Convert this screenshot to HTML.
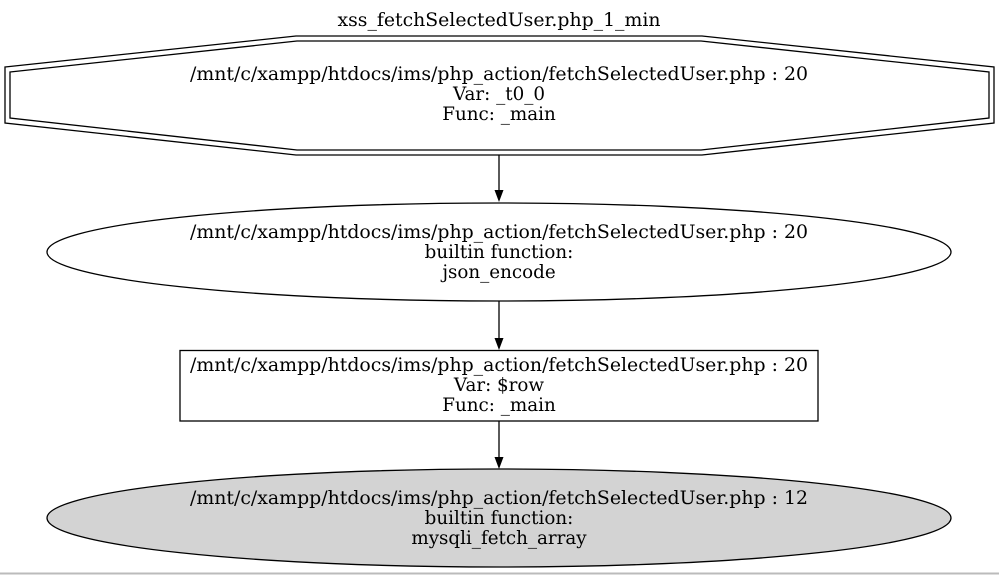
<!DOCTYPE html>
<html><head><style>body{margin:0;background:#fff}svg{display:block}</style></head><body>
<svg width="999" height="575" xmlns="http://www.w3.org/2000/svg" font-family="DejaVu Serif, serif" font-size="18.3" text-anchor="middle" fill="#000">
<rect x="0" y="0" width="999" height="575" fill="#fff"/>
<line x1="0" y1="573.5" x2="999" y2="573.5" stroke="#bbb" stroke-width="2"/>
<text x="499" y="26" textLength="323" lengthAdjust="spacingAndGlyphs">xss_fetchSelectedUser.php_1_min</text>
<polygon points="5,67 296,36 702,36 994,67 994,123 702,155 296,155 5,123" fill="none" stroke="#000" stroke-width="1.3"/>
<polygon points="10,72 297,41 701,41 989,72 989,118 701,150 297,150 10,118" fill="none" stroke="#000" stroke-width="1.3"/>
<text x="499" y="80" textLength="618" lengthAdjust="spacingAndGlyphs">/mnt/c/xampp/htdocs/ims/php_action/fetchSelectedUser.php : 20</text>
<text x="499" y="100">Var: _t0_0</text>
<text x="499" y="120">Func: _main</text>
<line x1="499" y1="155" x2="499" y2="191" stroke="#000" stroke-width="1.3"/>
<polygon points="494.5,190 503.5,190 499,202" fill="#000"/>
<ellipse cx="499" cy="252" rx="452" ry="49" fill="none" stroke="#000" stroke-width="1.3"/>
<text x="499" y="238" textLength="618" lengthAdjust="spacingAndGlyphs">/mnt/c/xampp/htdocs/ims/php_action/fetchSelectedUser.php : 20</text>
<text x="499" y="258">builtin function:</text>
<text x="499" y="278">json_encode</text>
<line x1="499" y1="301" x2="499" y2="339" stroke="#000" stroke-width="1.3"/>
<polygon points="494.5,338 503.5,338 499,350" fill="#000"/>
<rect x="180" y="350.5" width="638" height="70.5" fill="none" stroke="#000" stroke-width="1.3"/>
<text x="499" y="371" textLength="618" lengthAdjust="spacingAndGlyphs">/mnt/c/xampp/htdocs/ims/php_action/fetchSelectedUser.php : 20</text>
<text x="499" y="391">Var: $row</text>
<text x="499" y="411">Func: _main</text>
<line x1="499" y1="421" x2="499" y2="458" stroke="#000" stroke-width="1.3"/>
<polygon points="494.5,457 503.5,457 499,469" fill="#000"/>
<ellipse cx="499" cy="518" rx="452" ry="49" fill="#d3d3d3" stroke="#000" stroke-width="1.3"/>
<text x="499" y="504" textLength="618" lengthAdjust="spacingAndGlyphs">/mnt/c/xampp/htdocs/ims/php_action/fetchSelectedUser.php : 12</text>
<text x="499" y="524">builtin function:</text>
<text x="499" y="544">mysqli_fetch_array</text>
</svg>
</body></html>
